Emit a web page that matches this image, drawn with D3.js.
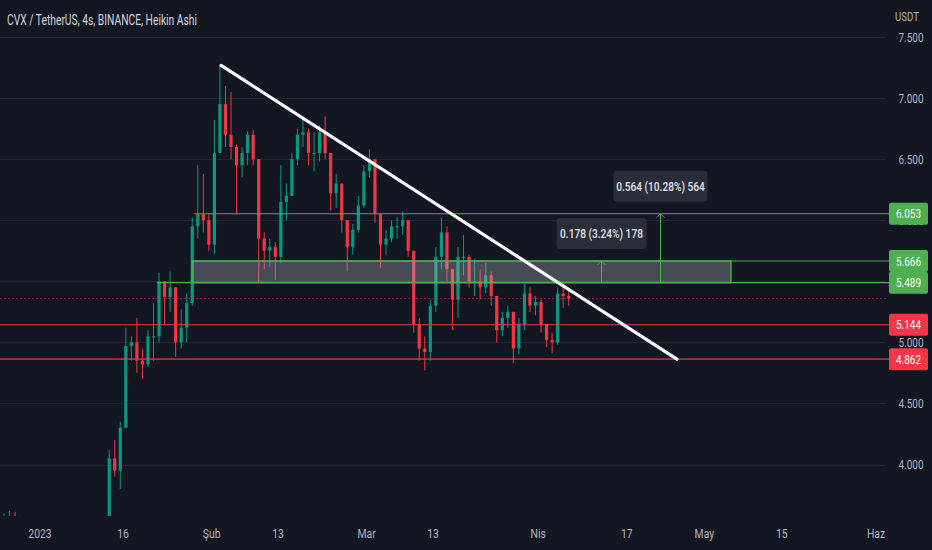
<!DOCTYPE html>
<html>
<head>
<meta charset="utf-8">
<script src="https://cdn.jsdelivr.net/npm/d3@7"></script>
<style>
  html, body { margin: 0; padding: 0; background: #131722; }
  svg { display: block; }
  text { font-family: Roboto, "Noto Sans", sans-serif; }
</style>
</head>
<body>
<div class="chart"></div>
<script>
'use strict';

/* ---- data (one candle per day, from 25 Dec 2022) ---- */
var firstDay  = new Date(2022, 11, 25);
var firstOpen = 3.52;
var closes = [
  3.56, 3.57, 3.55, 3.48, 3.40, 3.36, 3.32, 3.35, 3.30, 3.28, 3.31, 3.34, 3.38, 3.40, 3.37, 3.42, 3.45, 3.43, 3.48,
  4.05, 3.95, 4.30, 4.97, 5.00, 4.85, 4.82, 5.05, 5.05, 5.50, 5.37, 5.45, 5.00, 5.12, 5.32,
  5.95, 6.05, 6.00, 5.80, 6.55, 6.95, 6.70, 6.60, 6.45, 6.55, 6.70, 6.50, 5.85, 5.75, 5.78, 5.70,
  6.15, 6.20, 6.50, 6.70, 6.72, 6.55, 6.55, 6.72, 6.55, 6.22, 6.30, 6.00, 5.78, 5.92, 6.12, 6.40,
  6.50, 6.05, 5.80, 5.85, 5.95, 5.95, 6.00, 5.75, 5.15, 4.95, 4.92, 5.30, 5.70, 5.90, 5.60, 5.35,
  5.70, 5.70, 5.50, 5.50, 5.45, 5.55, 5.38, 5.10, 5.20, 5.25, 4.95, 5.15, 5.40, 5.30, 5.33, 5.15,
  5.02, 5.00, 5.40, 5.38, 5.36
];
var highs = [
  3.60, 3.62, 3.61, 3.58, 3.50, 3.44, 3.40, 3.40, 3.38, 3.34, 3.36, 3.40, 3.44, 3.47, 3.45, 3.48, 3.52, 3.50, 3.54,
  4.12, 4.20, 4.35, 5.12, 5.05, 5.20, 4.95, 5.10, 5.32, 5.57, 5.50, 5.58, 5.45, 5.27, 5.40,
  6.02, 6.45, 6.38, 6.05, 6.82, 7.27, 7.10, 7.05, 6.62, 6.60, 6.73, 6.74, 6.50, 5.90, 5.85, 5.82,
  6.45, 6.30, 6.55, 6.75, 6.84, 6.75, 6.72, 6.78, 6.85, 6.55, 6.38, 6.30, 6.00, 5.97, 6.20, 6.45,
  6.58, 6.50, 6.05, 5.92, 6.00, 6.03, 6.07, 6.00, 5.75, 5.20, 5.05, 5.35, 5.78, 6.02, 5.95, 5.60,
  5.78, 5.88, 5.72, 5.68, 5.60, 5.65, 5.58, 5.38, 5.25, 5.30, 5.25, 5.20, 5.48, 5.45, 5.38, 5.35,
  5.15, 5.08, 5.45, 5.48, 5.42
];
var lows = [
  3.50, 3.54, 3.51, 3.44, 3.36, 3.30, 3.26, 3.28, 3.25, 3.22, 3.24, 3.28, 3.32, 3.34, 3.32, 3.35, 3.39, 3.38, 3.40,
  3.46, 3.90, 3.80, 4.30, 4.85, 4.75, 4.70, 4.80, 4.85, 5.00, 5.15, 5.25, 4.88, 4.95, 5.00,
  5.30, 5.85, 5.90, 5.75, 5.72, 6.60, 6.60, 6.50, 6.05, 6.35, 6.45, 6.45, 5.49, 5.60, 5.62, 5.51,
  5.65, 6.00, 6.20, 6.45, 6.60, 6.45, 6.40, 6.48, 6.50, 6.08, 6.10, 5.90, 5.58, 5.72, 5.90, 6.10,
  6.35, 5.98, 5.61, 5.72, 5.82, 5.85, 5.88, 5.70, 5.08, 4.85, 4.77, 4.85, 5.25, 5.60, 5.50, 5.10,
  5.20, 5.55, 5.45, 5.38, 5.35, 5.40, 5.30, 5.00, 5.05, 5.12, 4.83, 4.90, 5.10, 5.25, 5.22, 5.08,
  4.96, 4.91, 4.98, 5.28, 5.30
];

var priceTicks = [4, 4.5, 5, 5.5, 6, 6.5, 7, 7.5];
var dateTicks = [
  new Date(2023, 0, 1), new Date(2023, 0, 16), new Date(2023, 1, 1), new Date(2023, 1, 13),
  new Date(2023, 2, 1), new Date(2023, 2, 13), new Date(2023, 3, 1), new Date(2023, 3, 17),
  new Date(2023, 4, 1), new Date(2023, 4, 15), new Date(2023, 5, 1)
];
var dateLabels = ['2023', '16', 'Şub', '13', 'Mar', '13', 'Nis', '17', 'May', '15', 'Haz'];

/* drawn levels */
var levelPrices = [6.053, 5.666, 5.489, 5.144, 4.862];
var levelStarts = [new Date(2023, 0, 28, 19), new Date(2023, 0, 28, 11), new Date(2023, 0, 22, 2), null, null];
var levelKinds  = ['up', 'up', 'up', 'down', 'down'];
var lastPrice   = 5.358;

var zonePrices = [5.489, 5.666];
var zoneDates  = [new Date(2023, 0, 28, 11), new Date(2023, 4, 5, 19)];

var trendDates  = [new Date(2023, 1, 2, 17), new Date(2023, 3, 26, 1)];
var trendPrices = [7.267, 4.862];

var measureDates  = [new Date(2023, 3, 12, 7), new Date(2023, 3, 23, 0)];
var measureFrom   = [5.489, 5.489];
var measureTo     = [5.666, 6.053];
var measureLabels = ['0.178 (3.24%) 178', '0.564 (10.28%) 564'];

/* ---- layout ---- */
var width = 932, height = 550;
var plotRight = 886, plotBottom = 516;
var upColor = '#089981', downColor = '#f23645', lineGreen = '#4caf50';
var textColor = '#b2b5be';

var svg = d3.select('.chart').append('svg')
  .attr('width', width)
  .attr('height', height);

svg.append('rect')
  .attr('width', width).attr('height', height)
  .attr('fill', '#131722');

var x = d3.scaleTime()
  .domain([new Date(2023, 0, 1), new Date(2023, 5, 1)])
  .range([40, 876]);
var y = d3.scaleLinear()
  .domain([4, 7.5])
  .range([464.5, 37]);

// squeeze text horizontally, the screenshot is narrow
function squeeze(sel, k) {
  sel.each(function() {
    var w = this.getComputedTextLength();
    d3.select(this).attr('textLength', w * k).attr('lengthAdjust', 'spacingAndGlyphs');
  });
}

svg.append('clipPath').attr('id', 'plot')
  .append('rect').attr('x', 0).attr('y', 0).attr('width', plotRight).attr('height', plotBottom);

// gridlines
svg.append('g').selectAll('line')
  .data(priceTicks).enter()
  .append('line')
    .attr('x1', 0).attr('x2', plotRight)
    .attr('y1', function(d) { return Math.round(y(d)) + 0.5; })
    .attr('y2', function(d) { return Math.round(y(d)) + 0.5; })
    .style('stroke', '#232734')
    .style('stroke-width', 1);

// candles
var candles = closes.map(function(c, i) {
  return {
    date: d3.timeHour.offset(d3.timeDay.offset(firstDay, i), 12),
    open: i === 0 ? firstOpen : closes[i - 1],
    high: highs[i], low: lows[i], close: c
  };
});
var bodyW = 3.2;
var cg = svg.append('g').attr('clip-path', 'url(#plot)');
var candle = cg.selectAll('g.c')
  .data(candles).enter()
  .append('g')
    .attr('class', 'c')
    .style('fill', function(d) { return d.close >= d.open ? upColor : downColor; })
    .style('stroke', function(d) { return d.close >= d.open ? upColor : downColor; });
candle.append('line')
  .attr('x1', function(d) { return x(d.date); })
  .attr('x2', function(d) { return x(d.date); })
  .attr('y1', function(d) { return y(d.high); })
  .attr('y2', function(d) { return y(d.low); })
  .style('stroke-width', 1);
candle.append('rect')
  .attr('x', function(d) { return x(d.date) - bodyW / 2; })
  .attr('width', bodyW)
  .attr('y', function(d) { return y(Math.max(d.open, d.close)); })
  .attr('height', function(d) { return Math.max(1, Math.abs(y(d.open) - y(d.close))); })
  .style('stroke', 'none');

// zone
svg.append('rect')
  .attr('x', x(zoneDates[0]))
  .attr('y', y(zonePrices[1]))
  .attr('width', x(zoneDates[1]) - x(zoneDates[0]))
  .attr('height', y(zonePrices[0]) - y(zonePrices[1]))
  .style('fill', 'rgba(178,181,190,0.33)')
  .style('stroke', lineGreen)
  .style('stroke-width', 1.5);

// last price line
svg.append('line')
  .attr('x1', 0).attr('x2', plotRight)
  .attr('y1', y(lastPrice)).attr('y2', y(lastPrice))
  .style('stroke', 'rgba(242,54,69,0.55)')
  .style('stroke-dasharray', '2,2');

// horizontal levels
svg.append('g').selectAll('line')
  .data(levelPrices).enter()
  .append('line')
    .attr('x1', function(d, i) { return levelStarts[i] ? x(levelStarts[i]) : 0; })
    .attr('x2', plotRight + 4)
    .attr('y1', function(d) { return y(d); })
    .attr('y2', function(d) { return y(d); })
    .style('stroke', function(d, i) { return levelKinds[i] === 'up' ? lineGreen : downColor; })
    .style('stroke-width', 1.2);

// trend line
svg.append('line')
  .attr('x1', x(trendDates[0])).attr('y1', y(trendPrices[0]))
  .attr('x2', x(trendDates[1])).attr('y2', y(trendPrices[1]))
  .style('stroke', '#ffffff')
  .style('stroke-width', 3.2)
  .style('stroke-linecap', 'round');

// measure arrows and their boxes
measureDates.forEach(function(d, i) {
  var mx = Math.round(x(d)) + 0.5,
      y0 = y(measureFrom[i]),
      y1 = y(measureTo[i]);
  var g = svg.append('g');
  g.append('line')
    .attr('x1', mx).attr('x2', mx).attr('y1', y0).attr('y2', y1)
    .style('stroke', lineGreen).style('stroke-width', 1);
  g.append('path')
    .attr('d', 'M' + (mx - 4) + ',' + (y1 + 4) + 'L' + mx + ',' + y1 + 'L' + (mx + 4) + ',' + (y1 + 4))
    .style('fill', 'none').style('stroke', lineGreen).style('stroke-width', 1);
  var boxW = i === 0 ? 90 : 94, boxH = 31;
  g.append('rect')
    .attr('x', mx - boxW / 2).attr('y', y1 - 12 - boxH)
    .attr('width', boxW).attr('height', boxH)
    .attr('rx', 4)
    .style('fill', '#2a2e39');
  g.append('text')
    .attr('x', mx).attr('y', y1 - 12 - boxH / 2 + 4.5)
    .attr('text-anchor', 'middle')
    .style('fill', '#e0e3eb')
    .style('font-size', '13px')
    .style('font-weight', 500)
    .text(measureLabels[i])
    .call(squeeze, 0.78);
});

// right price axis (labels fully covered by a level tag are not shown)
svg.append('g').selectAll('text')
  .data(priceTicks.filter(function(p) {
    return !levelPrices.some(function(l) { return Math.abs(y(l) - y(p)) < 5; }) &&
           !(y(p) > y(levelPrices[1]) && y(p) < y(levelPrices[2]));
  })).enter()
  .append('text')
    .attr('x', 911)
    .attr('y', function(d) { return y(d) + 4.5; })
    .attr('text-anchor', 'middle')
    .style('fill', textColor)
    .style('font-size', '12.5px')
    .text(function(d) { return d3.format('.3f')(d); })
    .call(squeeze, 0.8);

svg.append('text')
  .attr('x', 907).attr('y', 21)
  .attr('text-anchor', 'middle')
  .style('fill', textColor)
  .style('font-size', '12px')
  .text('USDT')
  .call(squeeze, 0.8);

// price labels of the levels
var tags = svg.append('g').selectAll('g')
  .data(levelPrices).enter()
  .append('g');
tags.append('rect')
  .attr('x', 889).attr('width', 39)
  .attr('y', function(d) { return y(d) - 11; })
  .attr('height', 22)
  .attr('rx', 2)
  .style('fill', function(d, i) { return levelKinds[i] === 'up' ? lineGreen : downColor; });
tags.append('text')
  .attr('x', 908.5)
  .attr('y', function(d) { return y(d) + 4.5; })
  .attr('text-anchor', 'middle')
  .style('fill', '#ffffff')
  .style('font-size', '12.5px')
  .text(function(d) { return d3.format('.3f')(d); })
  .call(squeeze, 0.8);

// time axis
svg.append('g').selectAll('text')
  .data(dateTicks).enter()
  .append('text')
    .attr('x', function(d) { return x(d); })
    .attr('y', 538)
    .attr('text-anchor', 'middle')
    .style('fill', textColor)
    .style('font-size', '13px')
    .text(function(d, i) { return dateLabels[i]; })
    .call(squeeze, 0.8);

// title
svg.append('text')
  .attr('x', 7).attr('y', 25)
  .style('fill', '#d1d4dc')
  .style('font-size', '14.5px')
  .attr('textLength', 190)
  .attr('lengthAdjust', 'spacingAndGlyphs')
  .text('CVX / TetherUS, 4s, BINANCE, Heikin Ashi');
</script>
</body>
</html>
